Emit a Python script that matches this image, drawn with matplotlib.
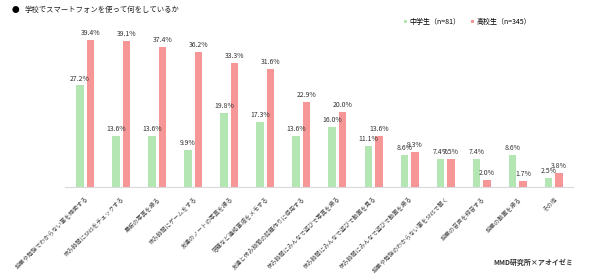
import matplotlib
matplotlib.use("Agg")
import matplotlib.pyplot as plt
import numpy as np

plt.rcParams['font.family'] = ['Noto Sans CJK JP', 'DejaVu Sans']

categories = [
    "授業や勉強でわからない事を検索する",
    "休み時間にSNSをチェックする",
    "黒板の写真を撮る",
    "休み時間にゲームをする",
    "友達のノートの写真を撮る",
    "宿題など連絡事項をメモする",
    "友達と休み時間の話題作りに使用する",
    "休み時間にみんなで遊びで写真を撮る",
    "休み時間にみんなで遊びで動画を見る",
    "休み時間にみんなで遊びで動画を撮る",
    "授業や勉強のわからない事をSNSで聞く",
    "授業の音声を録音する",
    "授業の動画を撮る",
    "その他",
]
junior = [27.2, 13.6, 13.6, 9.9, 19.8, 17.3, 13.6, 16.0, 11.1, 8.6, 7.4, 7.4, 8.6, 2.5]
senior = [39.4, 39.1, 37.4, 36.2, 33.3, 31.6, 22.9, 20.0, 13.6, 9.3, 7.5, 2.0, 1.7, 3.8]
series_names = ["中学生（n=81）", "高校生（n=345）"]
title = "学校でスマートフォンを使って何をしているか"
source = "MMD研究所×アオイゼミ"

green = "#b3e6b3"
red = "#f69696"

fig = plt.figure(figsize=(5.9, 2.8), dpi=100)
ax = fig.add_axes([0.110, 0.332, 0.861, 0.60])

x = np.arange(len(categories))
w = 0.21
off = 0.145
b1 = ax.bar(x - off, junior, w, color=green, label=series_names[0])
b2 = ax.bar(x + off, senior, w, color=red, label=series_names[1])

for xi, v in zip(x - off, junior):
    ax.text(xi, v + 0.8, f"{v:.1f}%", ha='center', va='bottom', fontsize=5.0, color='#333333')
for xi, v in zip(x + off, senior):
    ax.text(xi, v + 0.8, f"{v:.1f}%", ha='center', va='bottom', fontsize=5.0, color='#333333')

ax.set_xlim(-0.56, len(categories) - 1 + 0.53)
ax.set_ylim(0, 45)
ax.set_yticks([])
ax.set_xticks(x)
ax.set_xticklabels(categories, rotation=45, ha='right', rotation_mode='anchor',
                   fontsize=4.2, color='#444444')
ax.tick_params(axis='x', length=0, pad=6)
for s in ['top', 'right', 'left']:
    ax.spines[s].set_visible(False)
ax.spines['bottom'].set_color('#d9d9d9')
ax.spines['bottom'].set_linewidth(0.8)

fig.text(12 / 590, 1 - 10 / 280, "●", fontsize=5.5, va='center', ha='left', color='black')
fig.text(25 / 590, 1 - 10 / 280, title, fontsize=5.3, va='center', ha='left', color='#222222')

leg = fig.legend(handles=[b1, b2], labels=series_names, loc='center left',
                 bbox_to_anchor=(404 / 590, 1 - 22 / 280), ncol=2, frameon=False,
                 fontsize=5.0, handlelength=0.45, handleheight=0.45, columnspacing=1.6,
                 handletextpad=0.3, borderaxespad=0, borderpad=0)

fig.text(573 / 590, 1 - 262 / 280, source, fontsize=5.0, ha='right', va='center',
         color='#333333', fontweight='bold')

fig.savefig("out.png", dpi=100)
